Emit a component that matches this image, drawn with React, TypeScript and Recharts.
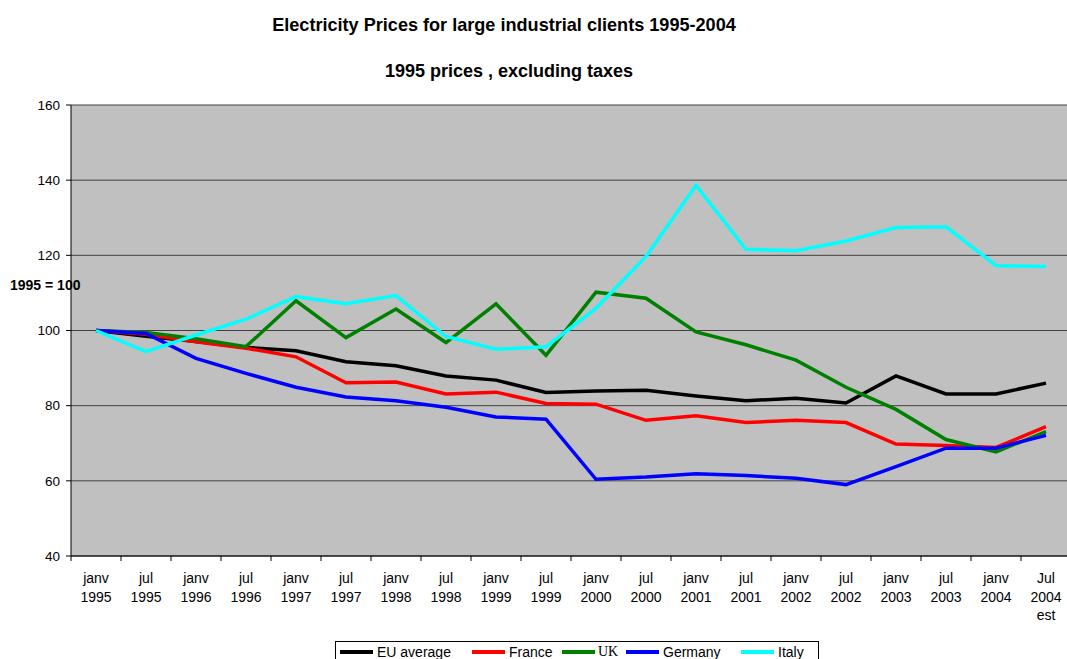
import React from 'react';
import { LineChart, Line, XAxis, YAxis, CartesianGrid } from 'recharts';

const periods = [
  'janv 1995', 'jul 1995', 'janv 1996', 'jul 1996', 'janv 1997', 'jul 1997',
  'janv 1998', 'jul 1998', 'janv 1999', 'jul 1999', 'janv 2000', 'jul 2000',
  'janv 2001', 'jul 2001', 'janv 2002', 'jul 2002', 'janv 2003', 'jul 2003',
  'janv 2004', 'Jul 2004 est',
];

const euAverage = [100, 98.5, 97.1, 95.5, 94.6, 91.7, 90.6, 87.9, 86.8, 83.5, 83.9, 84.1, 82.6, 81.3, 82.0, 80.7, 87.9, 83.1, 83.1, 86.0];
const france = [100, 99.0, 97.0, 95.3, 93.0, 86.1, 86.3, 83.1, 83.6, 80.6, 80.4, 76.1, 77.3, 75.5, 76.1, 75.5, 69.8, 69.4, 68.9, 74.4];
const uk = [100, 99.5, 97.8, 95.7, 107.9, 98.1, 105.7, 96.8, 107.1, 93.4, 110.2, 108.6, 99.6, 96.2, 92.1, 84.9, 79.0, 71.0, 67.7, 73.1];
const germany = [100, 99.2, 92.6, 88.6, 84.9, 82.3, 81.3, 79.6, 77.0, 76.4, 60.4, 61.0, 61.9, 61.4, 60.7, 59.0, 63.8, 68.7, 68.7, 72.1];
const italy = [100, 94.4, 98.8, 103.0, 109.0, 107.1, 109.3, 98.4, 95.0, 95.7, 105.9, 119.7, 138.6, 121.6, 121.2, 123.8, 127.4, 127.6, 117.3, 117.0];

const yTicks = [40, 60, 80, 100, 120, 140, 160];

const series = [
  { key: 'eu', name: 'EU average', color: '#000000', values: euAverage },
  { key: 'fr', name: 'France', color: '#ff0000', values: france },
  { key: 'uk', name: 'UK', color: '#008000', values: uk, serif: true },
  { key: 'de', name: 'Germany', color: '#0000ff', values: germany },
  { key: 'it', name: 'Italy', color: '#00ffff', values: italy },
];

const data = periods.map((p, i) => {
  const row: Record<string, string | number> = { period: p };
  series.forEach((s) => { row[s.key] = s.values[i]; });
  return row;
});

const FONT = '"Liberation Sans", Arial, sans-serif';
const CHART_W = 1080;
const PLOT_LEFT = 71;
const PLOT_RIGHT = 1071;
const HALF_BAND = (PLOT_RIGHT - PLOT_LEFT) / periods.length / 2;

// two-line category label, with the tick mark sitting on the band edge
const PeriodTick = (props: any) => {
  const { x, y, payload } = props;
  const parts = String(payload.value).split(' ');
  return (
    <g>
      <line x1={x - HALF_BAND} x2={x - HALF_BAND} y1={y} y2={y + 5} stroke="#000" />
      {parts.map((t, i) => (
        <text key={i} x={x} y={y + 27 + i * 18.5} textAnchor="middle" fontSize={14} fontFamily={FONT} fill="#000">
          {t}
        </text>
      ))}
    </g>
  );
};

export default function App() {
  return (
    <div style={{ position: 'absolute', left: 0, top: 0, width: 1067, height: 659, overflow: 'hidden', background: '#fff', fontFamily: FONT }}>
      <div style={{ position: 'absolute', left: 0, width: 1008, top: 15, textAlign: 'center', fontSize: 18.1, fontWeight: 'bold' }}>
        Electricity Prices for large industrial clients 1995-2004
      </div>
      <div style={{ position: 'absolute', left: 0, width: 1018, top: 61, textAlign: 'center', fontSize: 18, fontWeight: 'bold' }}>
        1995 prices , excluding taxes
      </div>

      <LineChart width={CHART_W} height={659} data={data} margin={{ top: 105, right: CHART_W - PLOT_RIGHT, bottom: 43, left: 0 }}>
        <CartesianGrid vertical={false} stroke="#404040" fill="#c0c0c0" fillOpacity={1} />
        <XAxis
          dataKey="period"
          interval={0}
          height={60}
          padding={{ left: HALF_BAND, right: HALF_BAND }}
          tickLine={false}
          tickSize={0}
          tickMargin={0}
          axisLine={{ stroke: '#000' }}
          tick={<PeriodTick />}
        />
        <YAxis
          width={PLOT_LEFT}
          domain={[40, 160]}
          ticks={yTicks}
          interval={0}
          tickSize={5}
          tickMargin={6}
          axisLine={{ stroke: '#000' }}
          tickLine={{ stroke: '#000' }}
          tick={{ fill: '#000', fontSize: 13.5, fontFamily: FONT }}
        />
        {series.map((s) => (
          <Line
            key={s.key}
            type="linear"
            dataKey={s.key}
            name={s.name}
            stroke={s.color}
            strokeWidth={3.5}
            dot={false}
            isAnimationActive={false}
          />
        ))}
      </LineChart>

      <div style={{ position: 'absolute', left: 10, top: 277, fontSize: 14, fontWeight: 'bold', zIndex: 2 }}>1995 = 100</div>

      <div style={{ position: 'absolute', left: 335, top: 641, width: 482, height: 30, border: '1px solid #000', background: '#fff' }}>
        {series.map((s, i) => {
          const lefts = [4, 136, 226, 290, 405];
          return (
            <div key={s.key} style={{ position: 'absolute', left: lefts[i], top: 1, display: 'flex', alignItems: 'center', fontSize: 14, height: 17 }}>
              <span style={{ display: 'inline-block', width: 33, height: 4, background: s.color, marginRight: s.serif ? 3 : 4 }} />
              <span style={{ fontFamily: s.serif ? '"Liberation Serif", "Times New Roman", serif' : FONT }}>{s.name}</span>
            </div>
          );
        })}
      </div>
    </div>
  );
}
